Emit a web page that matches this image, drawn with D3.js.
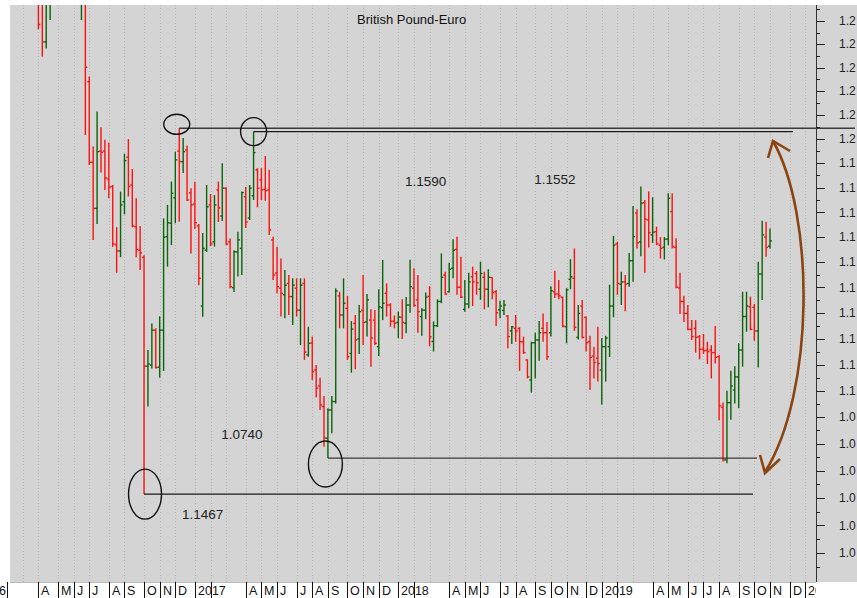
<!DOCTYPE html>
<html><head><meta charset="utf-8">
<script src="https://cdn.jsdelivr.net/npm/d3@7"></script>
<style>
body{margin:0;background:#fff;}
svg{display:block;font-family:Arial,"Liberation Sans",sans-serif;}
</style>
</head><body>
<svg id="c" width="857" height="598"></svg>
<script>
// ---- data (weekly bars, week ending Friday) ----
const firstWeek = "2016-02-05";
const opens = [1.3150,1.2990,1.2960,1.2790,1.2740,1.2880,1.2800,1.2690,1.2650,1.2600,
1.2410,1.2640,1.2800,1.2750,1.2680,1.2720,1.2950,1.3150,1.2800,1.2650,
1.2900,1.2241,1.1904,1.1716,1.1950,1.1950,1.1835,1.1805,1.1569,1.1545,
1.1743,1.1925,1.1811,1.1642,1.1548,1.1519,1.1094,1.1098,1.1233,1.1090,
1.1233,1.1602,1.1656,1.1759,1.1950,1.1907,1.1955,1.1779,1.1734,1.1645,
1.1327,1.1548,1.1730,1.1581,1.1791,1.1685,1.1798,1.1581,1.1399,1.1541,
1.1555,1.1763,1.1677,1.1767,1.1873,1.1832,1.1794,1.1791,1.1589,1.1457,
1.1397,1.1371,1.1416,1.1364,1.1397,1.1311,1.1416,1.1137,1.1183,1.1079,
1.1018,1.0940,1.0821,1.0927,1.0959,1.1367,1.1292,1.1318,1.1143,1.1259,
1.1199,1.1311,1.1265,1.1272,1.1272,1.1169,1.1320,1.1377,1.1331,1.1268,
1.1263,1.1283,1.1260,1.1331,1.1397,1.1351,1.1286,1.1311,1.1365,1.1189,
1.1250,1.1345,1.1449,1.1383,1.1476,1.1551,1.1401,1.1314,1.1335,1.1442,
1.1455,1.1393,1.1440,1.1393,1.1439,1.1383,1.1312,1.1310,1.1288,1.1230,
1.1240,1.1240,1.1188,1.1118,1.1041,1.1184,1.1195,1.1240,1.1223,1.1223,
1.1383,1.1374,1.1362,1.1246,1.1432,1.1436,1.1205,1.1327,1.1283,1.1188,
1.1133,1.1124,1.1079,1.1169,1.1169,1.1327,1.1573,1.1413,1.1422,1.1416,
1.1506,1.1697,1.1581,1.1739,1.1669,1.1609,1.1622,1.1568,1.1559,1.1592,
1.1703,1.1559,1.1398,1.1345,1.1298,1.1236,1.1240,1.1208,1.1159,1.1156,
1.1156,1.1146,1.1130,1.0937,1.0740,1.0955,1.1003,1.1053,1.1156,1.1286,
1.1324,1.1322,1.1230,1.1453,1.1600,1.1564];
const highs = [1.3200,1.3050,1.2990,1.2830,1.2900,1.2950,1.2830,1.2760,1.2700,1.2650,
1.2700,1.2850,1.2900,1.2800,1.2780,1.3000,1.3200,1.3180,1.2820,1.2950,
1.3150,1.2262,1.1969,1.2115,1.2049,1.1997,1.1985,1.1811,1.1640,1.1784,
1.1939,1.2000,1.1876,1.1757,1.1645,1.1528,1.1156,1.1259,1.1240,1.1287,
1.1675,1.1730,1.1825,1.1948,1.2045,1.2004,1.1973,1.1798,1.1824,1.1653,
1.1617,1.1811,1.1774,1.1770,1.1825,1.1900,1.1802,1.1595,1.1548,1.1622,
1.1784,1.1803,1.1811,1.2031,1.1880,1.1880,1.1930,1.1873,1.1602,1.1562,
1.1515,1.1469,1.1449,1.1436,1.1436,1.1436,1.1436,1.1246,1.1208,1.1098,
1.1050,1.0980,1.0934,1.0980,1.1397,1.1383,1.1436,1.1367,1.1268,1.1292,
1.1331,1.1449,1.1374,1.1314,1.1311,1.1393,1.1509,1.1416,1.1338,1.1290,
1.1305,1.1354,1.1362,1.1510,1.1476,1.1449,1.1318,1.1380,1.1405,1.1267,
1.1353,1.1535,1.1462,1.1498,1.1592,1.1602,1.1522,1.1429,1.1458,1.1482,
1.1465,1.1502,1.1462,1.1472,1.1440,1.1390,1.1348,1.1351,1.1292,1.1249,
1.1292,1.1244,1.1208,1.1120,1.1188,1.1223,1.1269,1.1298,1.1265,1.1405,
1.1466,1.1429,1.1364,1.1397,1.1512,1.1555,1.1331,1.1351,1.1286,1.1211,
1.1169,1.1246,1.1202,1.1211,1.1411,1.1605,1.1582,1.1462,1.1449,1.1537,
1.1726,1.1712,1.1805,1.1750,1.1784,1.1761,1.1642,1.1600,1.1600,1.1777,
1.1777,1.1596,1.1458,1.1367,1.1331,1.1272,1.1272,1.1214,1.1218,1.1188,
1.1175,1.1249,1.1137,1.0955,1.1000,1.1076,1.1094,1.1182,1.1383,1.1383,
1.1364,1.1335,1.1502,1.1666,1.1662,1.1635];
const lows = [1.2950,1.2880,1.2750,1.2680,1.2700,1.2780,1.2650,1.2620,1.2464,1.2347,
1.2382,1.2504,1.2700,1.2630,1.2640,1.2700,1.2900,1.2750,1.2620,1.2504,
1.2017,1.1893,1.1589,1.1653,1.1862,1.1791,1.1757,1.1562,1.1458,1.1520,
1.1692,1.1764,1.1640,1.1520,1.1469,1.0614,1.0940,1.1085,1.1085,1.1050,
1.1076,1.1482,1.1568,1.1656,1.1662,1.1860,1.1746,1.1535,1.1633,1.1409,
1.1285,1.1541,1.1564,1.1562,1.1661,1.1665,1.1568,1.1397,1.1382,1.1443,
1.1449,1.1637,1.1669,1.1750,1.1720,1.1750,1.1747,1.1609,1.1429,1.1377,
1.1286,1.1279,1.1292,1.1253,1.1286,1.1175,1.1118,1.1130,1.1041,1.0974,
1.0927,1.0789,1.0747,1.0840,1.0952,1.1240,1.1240,1.1118,1.1069,1.1082,
1.1141,1.1175,1.1208,1.1092,1.1175,1.1133,1.1272,1.1286,1.1246,1.1240,
1.1202,1.1199,1.1221,1.1301,1.1324,1.1223,1.1211,1.1275,1.1170,1.1150,
1.1245,1.1338,1.1371,1.1380,1.1436,1.1371,1.1358,1.1305,1.1318,1.1327,
1.1371,1.1351,1.1314,1.1322,1.1354,1.1249,1.1279,1.1292,1.1163,1.1179,
1.1188,1.1076,1.1141,1.1047,1.0993,1.1047,1.1115,1.1188,1.1118,1.1208,
1.1358,1.1354,1.1244,1.1182,1.1393,1.1230,1.1197,1.1201,1.1150,1.1003,
1.1047,1.1035,1.0948,1.1035,1.1129,1.1283,1.1371,1.1331,1.1307,1.1403,
1.1422,1.1555,1.1524,1.1458,1.1559,1.1577,1.1568,1.1515,1.1511,1.1568,
1.1555,1.1397,1.1296,1.1265,1.1233,1.1195,1.1146,1.1120,1.1141,1.1102,
1.1047,1.1104,1.0888,1.0734,1.0728,1.0890,1.0952,1.0934,1.1092,1.1227,
1.1233,1.1192,1.1089,1.1351,1.1522,1.1555];
const closes = [1.2990,1.2960,1.2790,1.2740,1.2880,1.2800,1.2690,1.2650,1.2485,1.2410,
1.2650,1.2800,1.2750,1.2680,1.2720,1.2950,1.3150,1.2800,1.2650,1.2900,
1.2302,1.1904,1.1716,1.1948,1.1945,1.1840,1.1802,1.1573,1.1545,1.1730,
1.1911,1.1805,1.1645,1.1551,1.1537,1.1094,1.1102,1.1233,1.1089,1.1233,
1.1600,1.1658,1.1777,1.1914,1.1907,1.1948,1.1750,1.1730,1.1658,1.1436,
1.1555,1.1722,1.1573,1.1730,1.1718,1.1798,1.1573,1.1403,1.1541,1.1589,
1.1780,1.1661,1.1798,1.1944,1.1798,1.1791,1.1788,1.1629,1.1449,1.1403,
1.1377,1.1409,1.1364,1.1409,1.1311,1.1409,1.1148,1.1182,1.1073,1.1010,
1.0946,1.0822,1.0927,1.0959,1.1386,1.1292,1.1338,1.1130,1.1237,1.1195,
1.1305,1.1263,1.1351,1.1202,1.1182,1.1324,1.1338,1.1331,1.1268,1.1260,
1.1284,1.1263,1.1331,1.1403,1.1329,1.1305,1.1311,1.1362,1.1207,1.1250,
1.1345,1.1440,1.1374,1.1472,1.1548,1.1401,1.1362,1.1335,1.1422,1.1422,
1.1418,1.1455,1.1393,1.1440,1.1380,1.1301,1.1327,1.1331,1.1208,1.1246,
1.1230,1.1188,1.1146,1.1053,1.1184,1.1195,1.1223,1.1223,1.1130,1.1387,
1.1374,1.1367,1.1249,1.1390,1.1442,1.1244,1.1298,1.1205,1.1184,1.1128,
1.1108,1.1104,1.1169,1.1202,1.1327,1.1568,1.1416,1.1422,1.1413,1.1506,
1.1602,1.1577,1.1737,1.1672,1.1618,1.1620,1.1573,1.1555,1.1592,1.1757,
1.1562,1.1401,1.1345,1.1298,1.1236,1.1208,1.1205,1.1159,1.1153,1.1150,
1.1146,1.1128,1.0943,1.0740,1.0955,1.1018,1.1053,1.1156,1.1286,1.1327,
1.1236,1.1230,1.1453,1.1609,1.1559,1.1585];
const yTickValues = [1.04,1.05,1.06,1.07,1.08,1.09,1.10,1.11,1.12,1.13,1.14,1.15,1.16,1.17,1.18,1.19,1.20,1.21,1.22,1.23,1.24,1.25];
const monthLetters = ["","","","A","M","J","J","A","S","O","N","D"];
const title = "British Pound-Euro";
const levelNotes = [
  {label:"1.1590", x:"2018-02-23", v:1.1807},
  {label:"1.1552", x:"2018-10-12", v:1.1815},
  {label:"1.0740", x:"2017-03-31", v:1.0818},
  {label:"1.1467", x:"2017-01-20", v:1.0523}
];

// ---- scales ----
const W = 857, H = 598;
const plotL = 10, plotT = 5, axisX = 816, plotB = 582;
const parse = d3.utcParse("%Y-%m-%d");
const t0 = parse(firstWeek);
const weeks = d3.range(opens.length).map(i => d3.utcWeek.offset(t0, i));
const axisEnd = parse("2020-01-31");
const x = d3.scaleUtc().domain([t0, parse("2020-01-03")]).range([7.1, 805.2]);
const y = d3.scaleLog().domain([1.04, 1.25]).range([553, 21]);

const svg = d3.select("#c");
svg.append("rect").attr("x",0).attr("y",0).attr("width",W).attr("height",H).attr("fill","#ffffff");
svg.append("rect").attr("x",plotL).attr("y",plotT).attr("width",W-plotL).attr("height",plotB-plotT).attr("fill","#d4d4d4");

const defs = svg.append("defs");
defs.append("clipPath").attr("id","plotclip").append("rect")
  .attr("x",plotL).attr("y",plotT).attr("width",axisX-plotL).attr("height",plotB-plotT);
defs.append("clipPath").attr("id","bandclip").append("rect")
  .attr("x",0).attr("y",plotB).attr("width",axisX).attr("height",H-plotB);

// month boundaries (first weekly bar of each month)
const allFridays = d3.utcFriday.range(d3.utcDay.offset(t0,-40), axisEnd);
const monthStarts = allFridays.filter((d,i) => i>0 && d.getUTCMonth() !== allFridays[i-1].getUTCMonth());

// grid
const grid = svg.append("g").attr("clip-path","url(#plotclip)");
grid.selectAll("line").data(monthStarts).join("line")
  .attr("x1", d => Math.round(x(d))+0.5).attr("x2", d => Math.round(x(d))+0.5)
  .attr("y1", plotT).attr("y2", plotB)
  .attr("stroke","#b4b4b4").attr("stroke-width",1).attr("stroke-dasharray","1,2");

// title
svg.append("text").attr("x",357).attr("y",24)
  .attr("font-size",13).attr("fill","#111").text(title);

// bars
const bars = svg.append("g").attr("clip-path","url(#plotclip)");
const data = weeks.map((d,i) => ({d, o:opens[i], h:highs[i], l:lows[i], c:closes[i]}));
const colorOf = b => b.c > b.o ? "#0a640a" : "#ff1010";
const g = bars.selectAll("g.bar").data(data).join("g").attr("class","bar")
  .attr("stroke", colorOf).attr("stroke-width",1.4);
g.append("line").attr("x1", b => x(b.d)).attr("x2", b => x(b.d))
  .attr("y1", b => y(b.h)).attr("y2", b => y(b.l));
g.append("line").attr("x1", b => x(b.d)-2).attr("x2", b => x(b.d))
  .attr("y1", b => y(b.o)).attr("y2", b => y(b.o));
g.append("line").attr("x1", b => x(b.d)).attr("x2", b => x(b.d)+2)
  .attr("y1", b => y(b.c)).attr("y2", b => y(b.c));

// level lines from highs / lows
const ann = svg.append("g");
const idx = s => weeks.findIndex(d => +d === +parse(s));
const hi1 = idx("2016-12-09"), hi2 = idx("2017-04-21"), lo1 = idx("2016-10-07"), lo2 = idx("2017-09-01");
const lines = [
  {x1: x(weeks[hi1]), x2: 855, v: highs[hi1], w:1.3, c:"#3a3a3a"},
  {x1: x(weeks[hi2]), x2: 793, v: highs[hi2], w:1.1, c:"#1a1a1a"},
  {x1: x(weeks[lo1]), x2: 753, v: lows[lo1], w:1.1, c:"#1a1a1a"},
  {x1: x(weeks[lo2]), x2: 757, v: lows[lo2], w:1.3, c:"#3a3a3a"}
];
ann.selectAll("line").data(lines).join("line")
  .attr("x1", d => d.x1).attr("x2", d => d.x2)
  .attr("y1", d => y(d.v)).attr("y2", d => y(d.v))
  .attr("stroke", d => d.c).attr("stroke-width", d => d.w);

const ells = [
  {cx: x(weeks[hi1])-2.5, cy: y(highs[hi1])-4, rx:13, ry:10},
  {cx: x(weeks[hi2]), cy: y(highs[hi2]), rx:13, ry:14},
  {cx: x(weeks[lo1])+1, cy: y(lows[lo1]), rx:16.5, ry:25},
  {cx: x(weeks[lo2])-2.5, cy: y(lows[lo2])+6, rx:17, ry:23}
];
ann.selectAll("ellipse").data(ells).join("ellipse")
  .attr("cx", d => d.cx).attr("cy", d => d.cy).attr("rx", d => d.rx).attr("ry", d => d.ry)
  .attr("fill","none").attr("stroke","#111").attr("stroke-width",1.4);

ann.selectAll("text").data(levelNotes).join("text")
  .attr("x", d => x(parse(d.x))).attr("y", d => y(d.v))
  .attr("text-anchor","middle").attr("font-size",13.5).attr("fill","#222")
  .text(d => d.label);

// brown double arrow
const brown = "#8b4513";
ann.append("path").attr("d","M773,141 C815,215 815,392 765,472")
  .attr("fill","none").attr("stroke",brown).attr("stroke-width",2.6);
ann.append("path").attr("d","M768,158 L773,141 L790,151")
  .attr("fill","none").attr("stroke",brown).attr("stroke-width",2.6).attr("stroke-linejoin","miter");
ann.append("path").attr("d","M760,455 L765,473 L780,459")
  .attr("fill","none").attr("stroke",brown).attr("stroke-width",2.6).attr("stroke-linejoin","miter");

// right axis (labels shown to one decimal, as in the reference)
const ax = svg.append("g");
ax.append("line").attr("x1",axisX+0.5).attr("x2",axisX+0.5).attr("y1",plotT).attr("y2",plotB)
  .attr("stroke","#333").attr("stroke-width",1);
const minor = yTickValues.map(v => v + 0.005).concat([1.035]);
ax.selectAll("line.mj").data(yTickValues).join("line").attr("class","mj")
  .attr("x1",axisX).attr("x2",axisX+9).attr("y1", v => Math.round(y(v))+0.5).attr("y2", v => Math.round(y(v))+0.5)
  .attr("stroke","#222");
ax.selectAll("line.mn").data(minor).join("line").attr("class","mn")
  .attr("x1",axisX).attr("x2",axisX+4).attr("y1", v => Math.round(y(v))+0.5).attr("y2", v => Math.round(y(v))+0.5)
  .attr("stroke","#222");
ax.selectAll("text").data(yTickValues).join("text")
  .attr("x",839).attr("y", v => y(v)).attr("dy","0.35em")
  .attr("font-size",12).attr("fill","#222")
  .text(v => (Math.floor(v * 10 + 1e-6) / 10).toFixed(1));

// bottom month band
const band = svg.append("g").attr("clip-path","url(#bandclip)");
band.append("line").attr("x1",plotL).attr("x2",axisX).attr("y1",plotB+0.5).attr("y2",plotB+0.5).attr("stroke","#bbb");
const seps = monthStarts.filter(d => d.getUTCMonth() !== 2);
band.selectAll("line.sep").data(seps).join("line").attr("class","sep")
  .attr("x1", d => Math.round(x(d))+0.5).attr("x2", d => Math.round(x(d))+0.5)
  .attr("y1", plotB).attr("y2", H).attr("stroke","#111");
const labelled = monthStarts.filter(d => monthLetters[d.getUTCMonth()] !== "" || d.getUTCMonth() === 0);
band.selectAll("text.m").data(labelled).join("text").attr("class","m")
  .attr("x", d => Math.round(x(d)) + 3)
  .attr("y", 595).attr("font-size",12.5).attr("fill","#111")
  .text(d => d.getUTCMonth() === 0 ? String(d.getUTCFullYear()) : monthLetters[d.getUTCMonth()]);
// first (partial) year cell: only the last digit of its year is visible in the reference
band.append("text").attr("x", Math.round(x(monthStarts[0])) - 1).attr("y",595)
  .attr("text-anchor","end").attr("font-size",12.5).attr("fill","#111")
  .text(String(monthStarts[0].getUTCFullYear()).slice(-1));
</script>
</body></html>
